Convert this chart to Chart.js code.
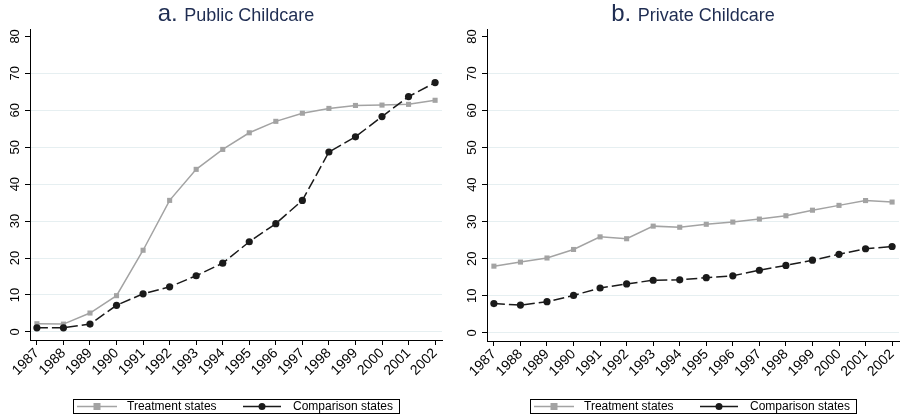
<!DOCTYPE html>
<html>
<head>
<meta charset="utf-8">
<script src="https://cdn.jsdelivr.net/npm/chart.js@4.4.1/dist/chart.umd.min.js"></script>
<style>
  html, body { margin: 0; padding: 0; background: #ffffff; }
  body { width: 905px; height: 414px; position: relative; overflow: hidden; }
  .panel { position: absolute; top: 0; }
</style>
</head>
<body>
<div class="panel" style="left:0px;"><canvas id="c1" width="452" height="414"></canvas></div>
<div class="panel" style="left:455px;"><canvas id="c2" width="450" height="414"></canvas></div>
<script>
// ---- data ----
const years = [1987, 1988, 1989, 1990, 1991, 1992, 1993, 1994, 1995, 1996, 1997, 1998, 1999, 2000, 2001, 2002];
const yTicks = [0, 10, 20, 30, 40, 50, 60, 70, 80];
const seriesNames = ["Treatment states", "Comparison states"];
const panelLetters = ["a.", "b."];
const panelTitles = ["Public Childcare", "Private Childcare"];
const publicTreatment  = [2.2, 2.1, 5.1, 9.8, 22.1, 35.6, 44.0, 49.4, 53.9, 57.0, 59.2, 60.5, 61.3, 61.4, 61.6, 62.7];
const publicComparison = [1.1, 1.1, 2.1, 7.2, 10.3, 12.2, 15.2, 18.6, 24.4, 29.3, 35.6, 48.7, 52.8, 58.3, 63.7, 67.5];
const privateTreatment  = [18.0, 19.1, 20.2, 22.5, 25.9, 25.4, 28.8, 28.5, 29.3, 29.9, 30.7, 31.6, 33.1, 34.4, 35.7, 35.3];
const privateComparison = [7.9, 7.5, 8.4, 10.1, 12.1, 13.2, 14.2, 14.3, 14.9, 15.4, 16.9, 18.2, 19.6, 21.2, 22.7, 23.3];

// ---- styles ----
const FONT = "'Liberation Sans', Arial, Helvetica, sans-serif";
const TREAT_COLOR = "#a3a3a3";
const COMP_COLOR = "#1a1a1a";
const GRID_COLOR = "#e6eff1";
const TITLE_COLOR = "#1f2d52";
const DASH = [11, 4];
const X_TICK_SIZE = 14;
const Y_TICK_SIZE = 13;

function pairs(vals) { return years.map((y, i) => ({ x: y, y: vals[i] })); }

const titlePlugin = {
  id: 'panelTitle',
  afterDraw(chart, args, opts) {
    const ctx = chart.ctx;
    const ca = chart.chartArea;
    const cx = (ca.left + ca.right) / 2;
    ctx.save();
    ctx.fillStyle = TITLE_COLOR;
    ctx.textBaseline = 'alphabetic';
    ctx.textAlign = 'left';
    const f1 = "24px " + FONT, f2 = "18px " + FONT;
    ctx.font = f1;
    const w1 = ctx.measureText(opts.letter + " ").width;
    ctx.font = f2;
    const w2 = ctx.measureText(opts.text).width;
    const x0 = cx - (w1 + w2) / 2;
    ctx.font = f1;
    ctx.fillText(opts.letter + " ", x0, 21);
    ctx.font = f2;
    ctx.fillText(opts.text, x0 + w1, 21);
    ctx.restore();
  }
};

// vertical (rotated 90 degrees) y tick labels, positioned by the y scale
const yLabelPlugin = {
  id: 'yRotLabels',
  afterDraw(chart) {
    const ctx = chart.ctx;
    const ys = chart.scales.y;
    const axisX = chart.chartArea.left;
    const cap = Y_TICK_SIZE * 0.716;
    ctx.save();
    ctx.fillStyle = "#000";
    ctx.font = Y_TICK_SIZE + "px " + FONT;
    ctx.textAlign = 'center';
    ctx.textBaseline = 'alphabetic';
    yTicks.forEach(v => {
      const py = ys.getPixelForValue(v);
      const bx = axisX - 16 + cap / 2;
      ctx.setTransform(0, -1, 1, 0, bx, py);
      ctx.fillText(String(v), 0, 0);
    });
    ctx.restore();
  }
};

const legendPlugin = {
  id: 'boxLegend',
  afterDraw(chart) {
    const ctx = chart.ctx;
    const ca = chart.chartArea;
    const cx = (ca.left + ca.right) / 2;
    const top = 399.5, h = 14;
    const cy = top + h / 2;
    ctx.save();
    ctx.strokeStyle = "#000";
    ctx.lineWidth = 1;
    ctx.strokeRect(Math.round(cx - 163) + 0.5, top, 326, h);
    ctx.strokeStyle = TREAT_COLOR; ctx.lineWidth = 1.5;
    ctx.beginPath(); ctx.moveTo(cx - 159, cy); ctx.lineTo(cx - 119, cy); ctx.stroke();
    ctx.fillStyle = TREAT_COLOR;
    ctx.fillRect(cx - 139 - 3.5, cy - 3.5, 7, 7);
    ctx.strokeStyle = COMP_COLOR;
    ctx.beginPath(); ctx.moveTo(cx + 7, cy); ctx.lineTo(cx + 45, cy); ctx.stroke();
    ctx.fillStyle = COMP_COLOR;
    ctx.beginPath(); ctx.arc(cx + 26, cy, 3.5, 0, Math.PI * 2); ctx.fill();
    ctx.fillStyle = "#000";
    ctx.font = "12px " + FONT;
    ctx.textBaseline = 'middle';
    ctx.textAlign = 'left';
    ctx.fillText(seriesNames[0], cx - 109, cy + 0.5);
    ctx.fillText(seriesNames[1], cx + 57, cy + 0.5);
    ctx.restore();
  }
};

function makeChart(id, idx, treat, comp, yAxisWidth, padRight, xAxisHeight) {
  return new Chart(document.getElementById(id), {
    type: 'line',
    data: {
      datasets: [
        {
          label: seriesNames[1], data: pairs(comp),
          borderColor: COMP_COLOR, backgroundColor: COMP_COLOR,
          borderWidth: 1.5, borderDash: DASH,
          pointStyle: 'circle', pointRadius: 3.6, pointBorderWidth: 0,
          pointBackgroundColor: COMP_COLOR, tension: 0
        },
        {
          label: seriesNames[0], data: pairs(treat),
          borderColor: TREAT_COLOR, backgroundColor: TREAT_COLOR,
          borderWidth: 1.5,
          pointStyle: 'rect', pointRadius: 3.6, pointBorderWidth: 0,
          pointBackgroundColor: TREAT_COLOR, tension: 0
        }
      ]
    },
    options: {
      responsive: false,
      animation: false,
      devicePixelRatio: 1,
      layout: { padding: { top: 29, right: padRight, left: 0, bottom: 0 } },
      plugins: {
        legend: { display: false },
        tooltip: { enabled: false },
        title: { display: false },
        panelTitle: { letter: panelLetters[idx], text: panelTitles[idx] }
      },
      scales: {
        x: {
          type: 'linear',
          min: 1986.74, max: 2002.26,
          afterBuildTicks: (s) => { s.ticks = years.map(v => ({ value: v })); },
          afterFit: (s) => { s.height = xAxisHeight; },
          grid: { drawOnChartArea: false, drawTicks: true, tickLength: 5, tickColor: '#000', tickWidth: 1 },
          border: { display: true, color: '#000', width: 1 },
          ticks: {
            autoSkip: false, minRotation: 45, maxRotation: 45,
            color: '#000', font: { family: FONT, size: X_TICK_SIZE }, padding: 0,
            callback: (v) => String(v)
          }
        },
        y: {
          type: 'linear',
          min: -2.2, max: 82,
          afterBuildTicks: (s) => { s.ticks = yTicks.map(v => ({ value: v })); },
          afterFit: (s) => { s.width = yAxisWidth; },
          grid: {
            drawOnChartArea: true, drawTicks: true, tickLength: 5,
            color: (c) => (c.tick && c.tick.value === 80) ? 'rgba(0,0,0,0)' : GRID_COLOR,
            tickColor: '#000', lineWidth: 1
          },
          border: { display: true, color: '#000', width: 1 },
          ticks: { display: false, autoSkip: false }
        }
      }
    },
    plugins: [titlePlugin, yLabelPlugin, legendPlugin]
  });
}

makeChart('c1', 0, publicTreatment, publicComparison, 30, 10, 74);
makeChart('c2', 1, privateTreatment, privateComparison, 32, 6, 73);
</script>
</body>
</html>
